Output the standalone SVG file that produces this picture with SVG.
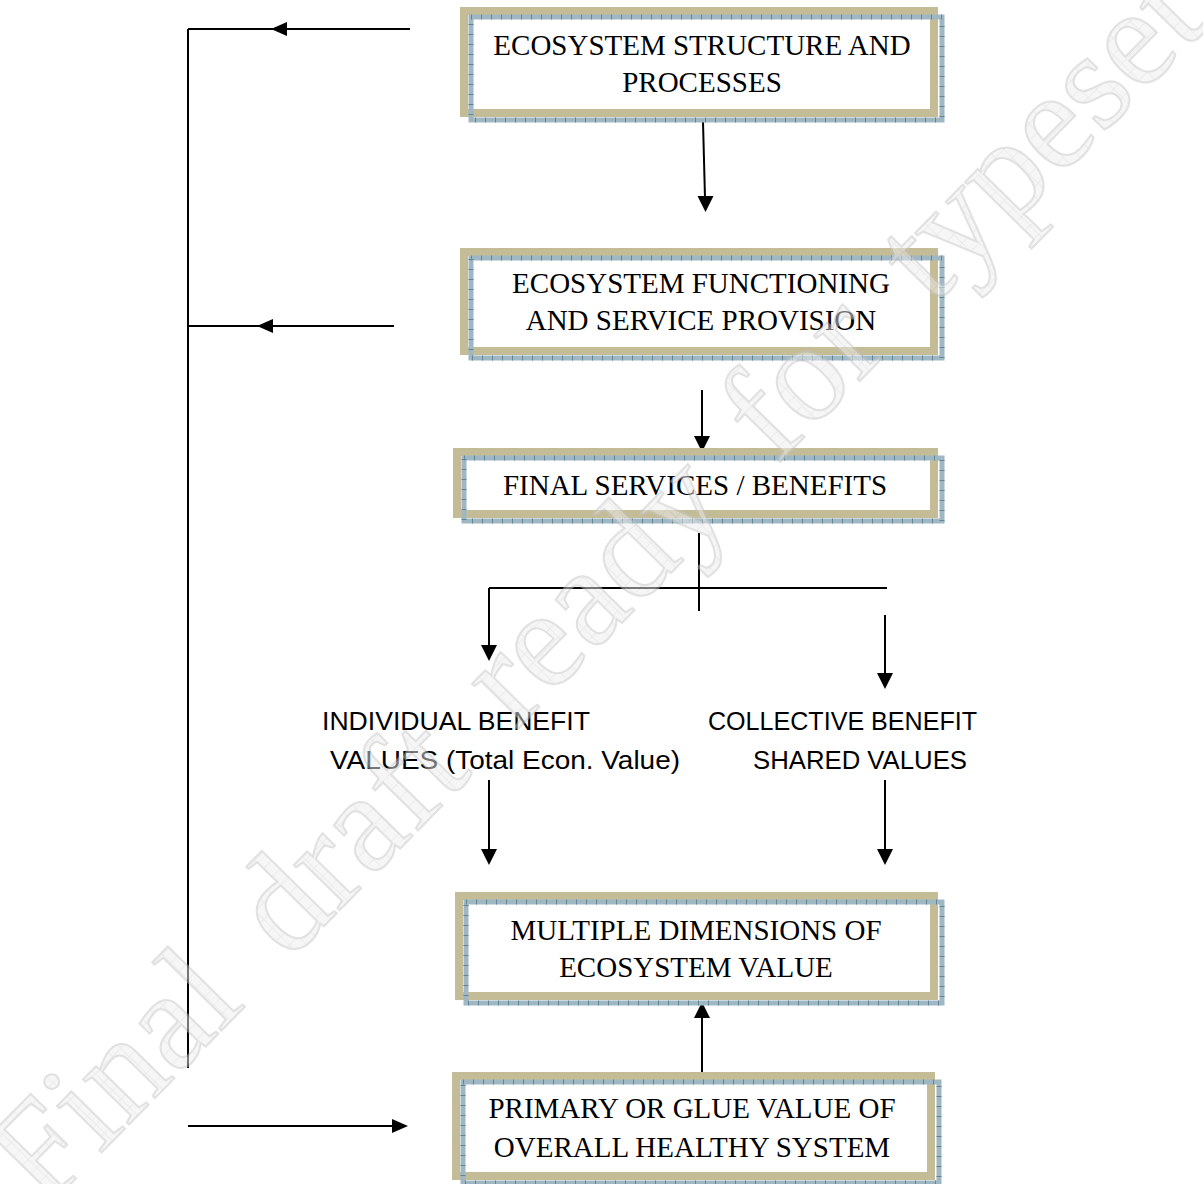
<svg xmlns="http://www.w3.org/2000/svg" width="1203" height="1184" viewBox="0 0 1203 1184">
<defs>
<style>
.frame{fill:#fff;stroke:#c4bc96;stroke-width:8}
.sh1{fill:none;stroke:#9fb7c2;stroke-width:5}
.sh2{fill:none;stroke:#5f8797;stroke-width:5;stroke-dasharray:1 9}
.bt{font-family:"Liberation Serif","Times New Roman",serif;font-size:29px;fill:#000;text-anchor:middle}
.st{font-family:"Liberation Sans",Arial,sans-serif;font-size:26px;fill:#000}
.ln{stroke:#000;stroke-width:2;fill:none}
.ah{fill:#000}
.wm{font-family:"Liberation Serif","Times New Roman",serif;font-size:140px;word-spacing:25px;fill:url(#hatch);stroke:#c4c4c4;stroke-width:2}
</style>
<pattern id="hatch" width="12" height="12" patternUnits="userSpaceOnUse">
<rect width="12" height="12" fill="#eeeeee"/>
<path d="M0 0L12 0M0 0L0 12" stroke="#d4d4d4" stroke-width="1.5"/>
</pattern>
</defs>

<g id="connectors">
<line class="ln" x1="188" y1="29" x2="188" y2="1068"/>
<line class="ln" x1="188" y1="29" x2="410" y2="29"/>
<polygon class="ah" points="271,29 287,22 287,36"/>
<line class="ln" x1="188" y1="326" x2="394" y2="326"/>
<polygon class="ah" points="257,326 273,319 273,333"/>
<line class="ln" x1="188" y1="1126" x2="394" y2="1126"/>
<polygon class="ah" points="408,1126 392,1119 392,1133"/>
<line class="ln" x1="703" y1="122" x2="705" y2="198"/>
<polygon class="ah" points="705.5,212 697.5,196 713.5,196"/>
<line class="ln" x1="702" y1="390" x2="702" y2="438"/>
<polygon class="ah" points="702,452 694,436 710,436"/>
<line class="ln" x1="699" y1="533" x2="699" y2="611"/>
<line class="ln" x1="489" y1="588" x2="887" y2="588"/>
<line class="ln" x1="489" y1="588" x2="489" y2="646"/>
<polygon class="ah" points="489,661 481,645 497,645"/>
<line class="ln" x1="885" y1="615" x2="885" y2="674"/>
<polygon class="ah" points="885,689 877,673 893,673"/>
<line class="ln" x1="489" y1="780" x2="489" y2="850"/>
<polygon class="ah" points="489,865 481,849 497,849"/>
<line class="ln" x1="885" y1="780" x2="885" y2="850"/>
<polygon class="ah" points="885,865 877,849 893,849"/>
<line class="ln" x1="702" y1="1072" x2="702" y2="1016"/>
<polygon class="ah" points="702,1002 694,1018 710,1018"/>
</g>

<g id="node-structure">
<rect class="frame" x="464" y="11" width="470" height="102"/>
<rect class="sh1" x="471" y="17" width="471" height="103"/>
<rect class="sh2" x="471" y="17" width="471" height="103"/>
<text class="bt" x="702" y="55">ECOSYSTEM STRUCTURE AND</text>
<text class="bt" x="702" y="92">PROCESSES</text>
</g>

<g id="node-functioning">
<rect class="frame" x="464" y="252" width="470" height="99"/>
<rect class="sh1" x="471" y="258" width="471" height="100"/>
<rect class="sh2" x="471" y="258" width="471" height="100"/>
<text class="bt" x="701" y="293">ECOSYSTEM FUNCTIONING</text>
<text class="bt" x="701" y="330">AND SERVICE PROVISION</text>
</g>

<g id="node-final">
<rect class="frame" x="457" y="452" width="477" height="62"/>
<rect class="sh1" x="464" y="458" width="478" height="63"/>
<rect class="sh2" x="464" y="458" width="478" height="63"/>
<text class="bt" x="695" y="495">FINAL SERVICES / BENEFITS</text>
</g>

<g id="node-individual">
<text class="st" x="322" y="730" textLength="268" lengthAdjust="spacingAndGlyphs">INDIVIDUAL BENEFIT</text>
<text class="st" x="330" y="769" textLength="350" lengthAdjust="spacingAndGlyphs">VALUES (Total Econ. Value)</text>
</g>

<g id="node-collective">
<text class="st" x="708" y="730" textLength="269" lengthAdjust="spacingAndGlyphs">COLLECTIVE BENEFIT</text>
<text class="st" x="753" y="769" textLength="214" lengthAdjust="spacingAndGlyphs">SHARED VALUES</text>
</g>

<g id="node-dimensions">
<rect class="frame" x="459" y="896" width="475" height="100"/>
<rect class="sh1" x="466" y="902" width="476" height="101"/>
<rect class="sh2" x="466" y="902" width="476" height="101"/>
<text class="bt" x="696" y="940">MULTIPLE DIMENSIONS OF</text>
<text class="bt" x="696" y="977">ECOSYSTEM VALUE</text>
</g>

<g id="node-primary">
<rect class="frame" x="456" y="1076" width="475" height="100"/>
<rect class="sh1" x="463" y="1082" width="476" height="101"/>
<rect class="sh2" x="463" y="1082" width="476" height="101"/>
<text class="bt" x="692" y="1118">PRIMARY OR GLUE VALUE OF</text>
<text class="bt" x="692" y="1157">OVERALL HEALTHY SYSTEM</text>
</g>

<g id="watermark" opacity="0.5">
<text class="wm" transform="translate(45,1210) rotate(-45.5)">Final draft ready for typeset</text>
</g>
</svg>
